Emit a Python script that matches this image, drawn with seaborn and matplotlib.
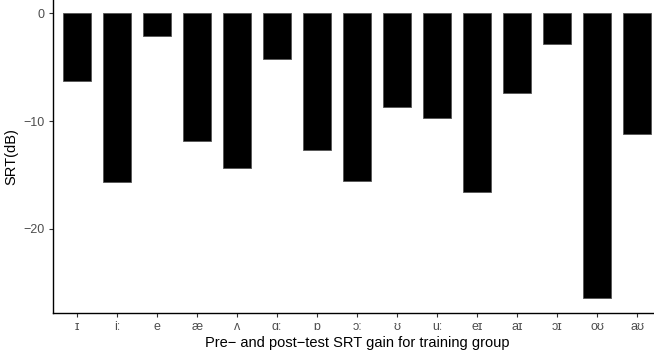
import matplotlib
matplotlib.use("Agg")
import matplotlib.pyplot as plt
import seaborn as sns
import pandas as pd

vowels = ["ɪ", "iː", "e", "æ", "ʌ", "ɑː", "ɒ", "ɔː", "ʊ", "uː", "eɪ", "aɪ", "ɔɪ", "oʊ", "aʊ"]
srt_gain = [-6.3, -15.7, -2.1, -11.9, -14.4, -4.2, -12.7, -15.6, -8.7, -9.7, -16.6, -7.4, -2.8, -26.5, -11.2]

df = pd.DataFrame({"vowel": vowels, "srt": srt_gain})

sns.set_style("ticks")
plt.rcParams['font.family'] = ['Liberation Sans', 'DejaVu Sans']

fig = plt.figure(figsize=(6.54, 3.5), dpi=100)
ax = fig.add_axes([53 / 654, 37 / 350, (661 - 53) / 654, 313 / 350])

sns.barplot(data=df, x="vowel", y="srt", color="black", edgecolor="#555555",
            linewidth=0.6, width=0.72, saturation=1, ax=ax)

ax.set_xlim(-0.6, len(vowels) - 0.4)
ax.set_ylim(-27.85, 1.25)
ax.set_yticks([0, -10, -20])
ax.set_yticklabels(["0", "\u221210", "\u221220"])

ax.set_xlabel("Pre\u2212 and post\u2212test SRT gain for training group", fontsize=10.5, color="black", labelpad=2)
ax.set_ylabel("SRT(dB)", fontsize=10.5, color="black", labelpad=4)
ax.tick_params(axis="both", labelsize=9, labelcolor="#4D4D4D", color="#333333",
               length=3, width=0.8, pad=3)

for side in ["top", "right"]:
    ax.spines[side].set_visible(False)
for side in ["left", "bottom"]:
    ax.spines[side].set_color("black")
    ax.spines[side].set_linewidth(1.0)

fig.savefig("out.png", dpi=100)
